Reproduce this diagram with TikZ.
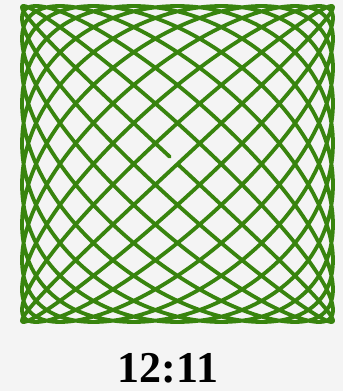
\documentclass[tikz,border=0pt]{standalone}
\usepackage{fontspec}
\setmainfont{Liberation Serif}
\definecolor{bg}{HTML}{F4F4F4}
\definecolor{curve}{RGB}{56,132,14}
\begin{document}
\begin{tikzpicture}[x=1pt,y=1pt,
  lissa/.style={draw=curve,line width=3.8pt,line cap=round,line join=round},
  lbl/.style={font=\fontsize{44}{48}\selectfont\bfseries,text=black,inner sep=1pt}]
\fill[bg] (0,0) rectangle (343,391);
\useasboundingbox (0,0) rectangle (343,391);
\draw[lissa] plot[domain=0:359.77,samples=2400,variable=\t]
  ({177.5+155.5*sin(12*\t)},{227-158*sin(11*\t)});
\node[lbl] (ratio) at (168,23) {12:11};
\end{tikzpicture}
\end{document}
